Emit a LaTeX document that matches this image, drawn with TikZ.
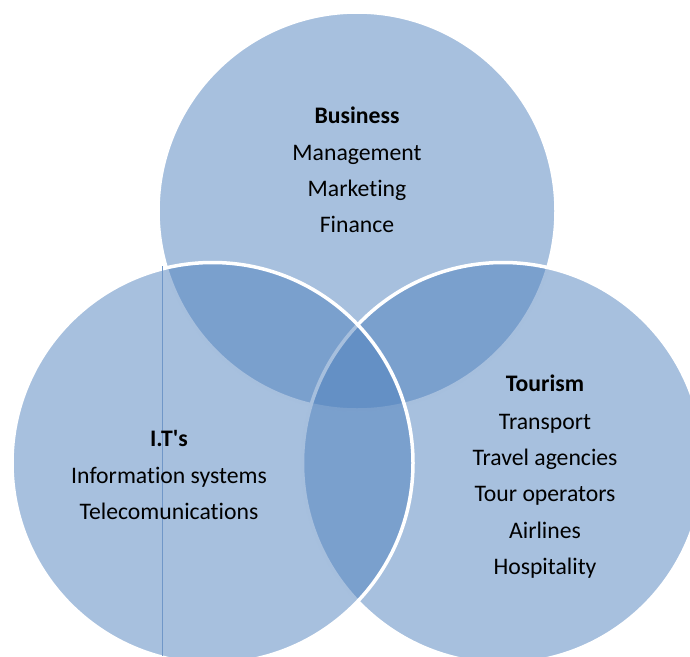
\documentclass[tikz,border=0pt]{standalone}
\usepackage{fontspec}
\setmainfont{Carlito}[Ligatures={NoCommon}]
\definecolor{vennblue}{RGB}{79,129,189}
\definecolor{seamline}{RGB}{112,151,200}
\begin{document}
\begin{tikzpicture}[x=1pt,y=-1pt,
  vennset/.style={fill=vennblue, fill opacity=0.5, draw=white, draw opacity=1, line width=3.5pt},
  lbl/.style={anchor=base, inner sep=0pt, font=\fontsize{23.7}{36}\selectfont, text=black},
  head/.style={lbl, font=\fontsize{23.7}{36}\selectfont\bfseries}]
\useasboundingbox (0,0) rectangle (690,656);
\clip (0,0) rectangle (690,656);
% circles: top (Business), right (Tourism), left (IT's)
\coordinate (ctop) at (357,211);
\coordinate (cright) at (503,463);
\coordinate (cleft) at (212.5,463);
\path[vennset] (ctop) circle[radius=199pt];
\path[vennset] (cright) circle[radius=200.5pt];
\path[vennset] (cleft) circle[radius=200.5pt];
% thin vertical line
\coordinate (seamtop) at (162,266);
\coordinate (seambot) at (162,656);
\draw[seamline, line width=1pt] (seamtop) -- (seambot);
% Business
\node[head] (biz) at (357,123.3) {Business};
\node[lbl] (biz1) at (357,160) {Management};
\node[lbl] (biz2) at (357,196.3) {Marketing};
\node[lbl] (biz3) at (357,232.7) {Finance};
% IT's
\node[head] (it) at (169,446.7) {I.T\textquotesingle s};
\node[lbl] (it1) at (169,483.3) {Information systems};
\node[lbl] (it2) at (169,519.3) {Telecomunications};
% Tourism
\node[head] (tour) at (545,391.7) {Tourism};
\node[lbl] (tour1) at (545,429) {Transport};
\node[lbl] (tour2) at (545,465.2) {Travel agencies};
\node[lbl] (tour3) at (545,501.7) {Tour operators};
\node[lbl] (tour4) at (545,538.2) {Airlines};
\node[lbl] (tour5) at (545,574.4) {Hospitality};
\end{tikzpicture}
\end{document}
